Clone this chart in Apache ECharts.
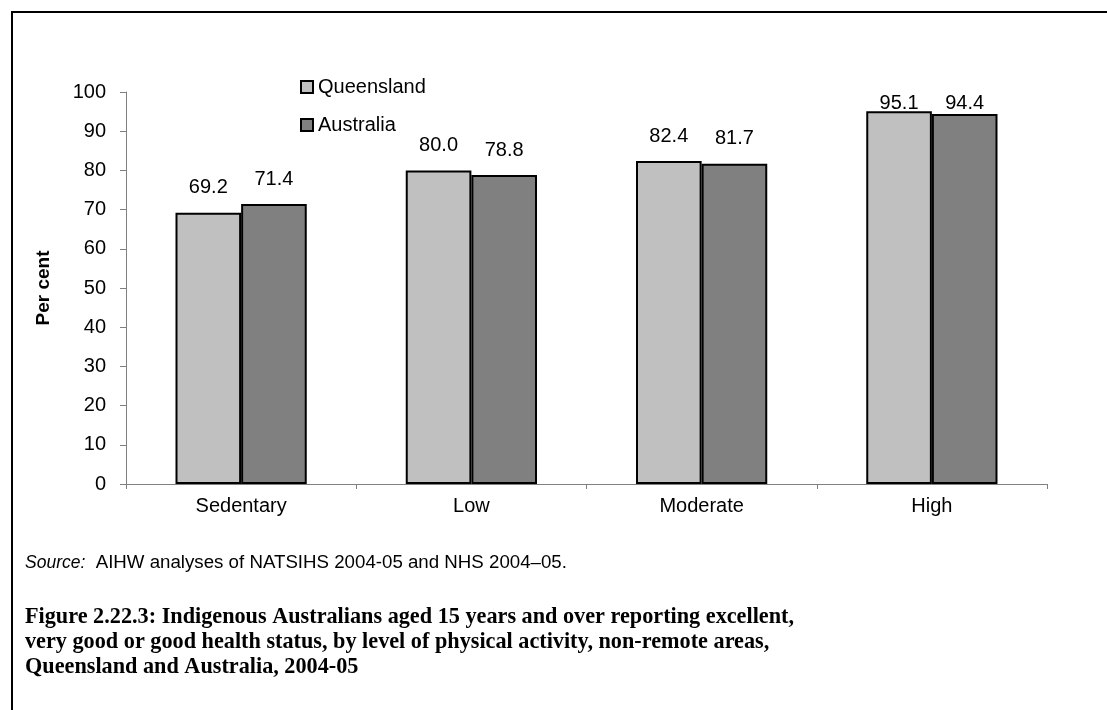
<!DOCTYPE html>
<html><head><meta charset="utf-8">
<script src="https://cdn.jsdelivr.net/npm/echarts@6/dist/echarts.min.js"></script>
<style>
html,body{margin:0;padding:0;background:#fff;}
#frame{position:absolute;left:11px;top:11px;width:1200px;height:800px;border-left:2px solid #000;border-top:2px solid #000;}
#chart{position:absolute;left:0;top:0;width:1107px;height:710px;}
</style>
</head><body>
<div id="frame"></div>
<div id="chart"></div>
<script>
const categories = ['Sedentary', 'Low', 'Moderate', 'High'];
const queensland = [69.2, 80.0, 82.4, 95.1];
const australia = [71.4, 78.8, 81.7, 94.4];
const seriesNames = ['Queensland', 'Australia'];
const yTicks = [0, 10, 20, 30, 40, 50, 60, 70, 80, 90, 100];
const sourceText = 'AIHW analyses of NATSIHS 2004-05 and NHS 2004\u201305.';
const titleLines = [
  'Figure 2.22.3: Indigenous Australians aged 15 years and over reporting excellent,',
  'very good or good health status, by level of physical activity, non-remote areas,',
  'Queensland and Australia, 2004-05'
];

const chart = echarts.init(document.getElementById('chart'), null, {renderer: 'canvas'});
const font = 'Liberation Sans, Arial, sans-serif';
const serif = 'Liberation Serif, Times New Roman, serif';
const fs = 20;
const labelCfg = {show: true, position: 'top', distance: 15, color: '#000', fontFamily: font, fontSize: fs, formatter: p => p.value.toFixed(1)};

// fit title width to reference line width
const ctx = document.createElement('canvas').getContext('2d');
ctx.font = 'bold 24px ' + serif;
const titleScaleX = 769 / ctx.measureText(titleLines[0]).width;

chart.setOption({
  animation: false,
  backgroundColor: 'transparent',
  grid: {left: 126, right: 60, top: 92, bottom: 226, containLabel: false},
  legend: {
    orient: 'vertical', left: 295, top: 72, itemGap: 18, itemWidth: 12, itemHeight: 12,
    icon: 'rect', itemStyle: {borderColor: '#000', borderWidth: 2},
    textStyle: {fontFamily: font, fontSize: fs, color: '#000'},
    data: seriesNames
  },
  xAxis: {
    type: 'category', data: categories,
    axisLine: {lineStyle: {color: '#808080', width: 1}},
    axisTick: {show: true, length: 5, inside: false, lineStyle: {color: '#808080'}},
    axisLabel: {color: '#000', fontFamily: font, fontSize: fs, margin: 12}
  },
  yAxis: {
    type: 'value', min: 0, max: 100, interval: 10,
    name: 'Per cent', nameLocation: 'middle', nameGap: 73, nameRotate: 90,
    nameTextStyle: {fontFamily: font, fontSize: 19, fontWeight: 'bold', color: '#000'},
    axisLine: {show: true, lineStyle: {color: '#808080', width: 1}},
    axisTick: {show: true, length: 6, lineStyle: {color: '#808080'}},
    splitLine: {show: false},
    axisLabel: {color: '#000', fontFamily: font, fontSize: fs, margin: 20,
      formatter: v => yTicks.includes(v) ? String(v) : ''}
  },
  series: [
    {name: seriesNames[0], type: 'bar', data: queensland, barGap: '0%', barCategoryGap: '43%',
     itemStyle: {color: '#c0c0c0', borderColor: '#000', borderWidth: 2}, label: labelCfg},
    {name: seriesNames[1], type: 'bar', data: australia,
     itemStyle: {color: '#808080', borderColor: '#000', borderWidth: 2}, label: labelCfg}
  ].map(s => Object.assign(s, {
    labelLayout: p => {
      const r = p.labelRect;
      return {x: r.x, y: Math.max(r.y, 93), align: 'left', verticalAlign: 'top'};
    }
  })),
  graphic: [
    {type: 'text', x: 25, y: 563, style: {
      text: '{i|Source:}  {n|' + sourceText + '}',
      rich: {i: {fontStyle: 'italic', fontFamily: font, fontSize: 17.5, fill: '#000'},
             n: {fontFamily: font, fontSize: 18.7, fill: '#000'}},
      fontFamily: font, fontSize: 18.7, fill: '#000', verticalAlign: 'middle'}},
    ...titleLines.map((t, i) => ({type: 'text', x: 25, y: 617 + i * 25, scaleX: titleScaleX, style: {
      text: t, fontFamily: serif, fontWeight: 'bold', fontSize: 24, fill: '#000', verticalAlign: 'middle'}}))
  ]
});
</script>
</body></html>
